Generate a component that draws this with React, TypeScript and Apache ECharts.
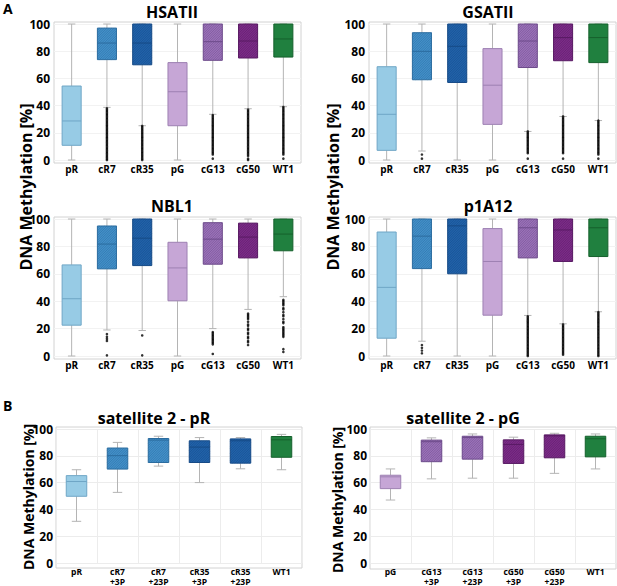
import React, { useEffect, useRef } from 'react';
import * as echarts from 'echarts';

const FONT = '"Open Sans", "Noto Sans", sans-serif';

// ---- categories ----
const catsA = ['pR', 'cR7', 'cR35', 'pG', 'cG13', 'cG50', 'WT1'];
const catsBR = ['pR', 'cR7\n+3P', 'cR7\n+23P', 'cR35\n+3P', 'cR35\n+23P', 'WT1'];
const catsBG = ['pG', 'cG13\n+3P', 'cG13\n+23P', 'cG50\n+3P', 'cG50\n+23P', 'WT1'];

// ---- y ticks ----
const yTicks = [0, 20, 40, 60, 80, 100];

// ---- box stats [min, Q1, median, Q3, max] ----
const hsatiiBoxes = [
  [0, 10.8, 28.7, 54.4, 100],
  [38.7, 73.8, 86, 97, 100],
  [25.2, 70, 86, 100, 100],
  [0, 25.2, 50.2, 71.6, 100],
  [33.6, 73.3, 87, 100, 100],
  [37.7, 75, 87.5, 100, 100],
  [39.2, 75.7, 89, 100, 100],
];
const gsatiiBoxes = [
  [0, 7.1, 33.6, 68.6, 100],
  [6.6, 59, 79.9, 93.6, 100],
  [0, 57, 83.6, 100, 100],
  [0, 26.2, 55, 81.9, 100],
  [21, 68, 87.5, 100, 100],
  [32, 73, 90, 100, 100],
  [29, 71.6, 90, 100, 100],
];
const nbl1Boxes = [
  [0, 22.5, 41.8, 66.5, 100],
  [19, 63.6, 81.7, 94.9, 100],
  [18.6, 66, 86, 100, 100],
  [0, 40.3, 64.3, 83, 100],
  [20, 67, 85.3, 97.3, 100],
  [34, 71.6, 86.8, 97, 100],
  [43.3, 76.8, 89, 100, 100],
];
const p1a12Boxes = [
  [0, 13, 50.1, 90.5, 100],
  [10.8, 63.8, 87.5, 100, 100],
  [0, 60, 95, 100, 100],
  [0, 29.8, 69, 93, 100],
  [29.6, 71.6, 93.6, 100, 100],
  [23.5, 69, 92, 100, 100],
  [32.3, 72.6, 93.6, 100, 100],
];
const satRBoxes = [
  [31.1, 49.8, 60.8, 65.2, 69.6],
  [52.7, 70.1, 80.1, 85.8, 90],
  [72.3, 75, 91.7, 92.9, 94.6],
  [60, 75, 86.5, 91.2, 93.6],
  [70.3, 74.5, 91.2, 92.6, 93.6],
  [69.6, 78.9, 91.9, 94.4, 96],
];
const satGBoxes = [
  [47, 55.5, 64.3, 65.5, 70.2],
  [62.8, 75.6, 90.5, 91.7, 93.4],
  [63.3, 77.5, 93.6, 94.6, 96.3],
  [63.3, 74.3, 88.5, 91.9, 93.9],
  [66.9, 78.5, 94.9, 95.6, 96.8],
  [70.2, 79.2, 92.7, 94.6, 96.3],
];

// ---- outliers per category ----
const hsatiiOut = [
  [],
  [38, 37, 36, 35, 34, 33, 32, 31, 30, 29, 28, 27, 26, 25, 24, 23, 22, 21, 20, 19, 18, 17, 16, 15, 14, 13, 12, 11, 10, 9, 8, 7, 6, 5, 4, 3, 2, 1, 0],
  [25, 24, 23, 22, 21, 20, 19, 18, 17, 16, 15, 14, 13, 12, 11, 10, 9, 8, 7, 6, 5, 4, 3, 2, 1, 0],
  [],
  [33, 32, 31, 30, 29, 28, 27, 26, 25, 24, 23, 22, 21, 20, 19, 18, 17, 16, 15, 14, 13, 12, 11, 10, 9, 8, 7, 6, 5, 4, 1],
  [37, 36, 35, 34, 33, 32, 31, 30, 29, 28, 27, 26, 25, 24, 23, 22, 21, 20, 19, 18, 17, 16, 15, 14, 13, 12, 11, 10, 9, 8, 7, 6, 5, 4, 3, 1, 0],
  [39, 38, 37, 36, 35, 34, 33, 32, 31, 30, 29, 28, 27, 26, 25, 24, 23, 22, 21, 20, 19, 18, 17, 16, 15, 14, 13, 12, 11, 10, 9, 8, 7, 6, 5, 4, 1],
];
const gsatiiOut = [
  [],
  [4, 1],
  [],
  [],
  [21, 20, 19, 18, 17, 16, 15, 14, 13, 12, 11, 10, 9, 8, 7, 6, 5, 1],
  [32, 31, 30, 29, 28, 27, 26, 25, 24, 23, 22, 21, 20, 19, 18, 17, 16, 15, 14, 13, 12, 11, 10, 9, 8, 7, 6, 5, 1],
  [29, 28, 27, 26, 25, 24, 23, 22, 21, 20, 19, 18, 17, 16, 15, 14, 13, 12, 11, 10, 9, 8, 7, 6, 5, 4, 1],
];
const nbl1Out = [
  [],
  [16, 14, 12.5, 11, 0.5],
  [15, 0.5],
  [],
  [17.5, 16.5, 15.5, 14.5, 13.5, 12.5, 11.5, 10.5, 9.5, 8.5, 1.5],
  [31, 30, 29, 28, 27, 25, 23, 22, 20, 19, 17, 16, 14, 13, 11, 10, 8],
  [41, 40, 39, 38, 37, 35, 34, 32, 30, 29, 27, 25, 24, 21, 20, 19, 18, 17, 16, 15, 14, 5, 3],
];
const p1a12Out = [
  [],
  [8, 6, 4, 2],
  [],
  [],
  [29, 28, 27, 26, 25, 24, 23, 22, 21, 20, 19, 18, 17, 16, 15, 14, 13, 12, 11, 10, 9, 8, 7, 6, 5, 4, 3, 2, 1, 0],
  [23, 22, 21, 20, 19, 18, 17, 16, 15, 14, 13, 12, 11, 10, 9, 8, 7, 6, 5, 4, 3, 2, 1],
  [32, 31, 30, 29, 28, 27, 26, 25, 24, 23, 22, 21, 20, 19, 18, 17, 16, 15, 14, 13, 12, 11, 10, 9, 8, 7, 6, 5, 4, 3, 2, 1, 0],
];

// ---- styles ----
const STY: Record<string, { fill: string; line: string; hatch: string | null }> = {
  pR: { fill: '#97cbe5', line: '#6fa6c6', hatch: null },
  cR7: { fill: '#4390c9', line: '#2b6c9f', hatch: '#2b6c9f' },
  cR35: { fill: '#2162aa', line: '#164a86', hatch: '#164a86' },
  pG: { fill: '#c6a6d6', line: '#9d80b2', hatch: null },
  cG13: { fill: '#9b72b9', line: '#6c4a8a', hatch: '#6c4a8a' },
  cG50: { fill: '#7c2c88', line: '#581a63', hatch: '#581a63' },
  WT1: { fill: '#20803f', line: '#15602c', hatch: null },
};
const styA = ['pR', 'cR7', 'cR35', 'pG', 'cG13', 'cG50', 'WT1'].map((k) => STY[k]);
const styBR = ['pR', 'cR7', 'cR7', 'cR35', 'cR35', 'WT1'].map((k) => STY[k]);
const styBG = ['pG', 'cG13', 'cG13', 'cG50', 'cG50', 'WT1'].map((k) => STY[k]);

const WHISK = '#b4b4b4';
const FRAME = '#d2d2d2';

type Panel = {
  title: string; cats: string[]; boxes: number[][]; out: number[][]; sty: any[];
  L: number; T: number; W: number; H: number; tx: number; ty: number; B: boolean;
};

const PANELS: Panel[] = [
  { title: 'HSATII', cats: catsA, boxes: hsatiiBoxes, out: hsatiiOut, sty: styA, L: 54, T: 24, W: 247, H: 136, tx: 172, ty: 12, B: false },
  { title: 'GSATII', cats: catsA, boxes: gsatiiBoxes, out: gsatiiOut, sty: styA, L: 369, T: 24, W: 247, H: 136, tx: 488, ty: 12, B: false },
  { title: 'NBL1', cats: catsA, boxes: nbl1Boxes, out: nbl1Out, sty: styA, L: 54, T: 219, W: 247, H: 137, tx: 172, ty: 206, B: false },
  { title: 'p1A12', cats: catsA, boxes: p1a12Boxes, out: p1a12Out, sty: styA, L: 369, T: 219, W: 247, H: 137, tx: 488, ty: 206, B: false },
  { title: 'satellite 2 - pR', cats: catsBR, boxes: satRBoxes, out: [], sty: styBR, L: 56, T: 429, W: 246, H: 136, tx: 154, ty: 418, B: true },
  { title: 'satellite 2 - pG', cats: catsBG, boxes: satGBoxes, out: [], sty: styBG, L: 370, T: 429, W: 246, H: 137, tx: 463, ty: 418, B: true },
];

function makeRender(styles: any[], boxRatio: number, capRatio: number) {
  return (params: any, api: any) => {
    const i = api.value(0);
    const s = styles[i];
    const xc = api.coord([i, 0])[0];
    const y = [1, 2, 3, 4, 5].map((k) => api.coord([i, api.value(k)])[1]);
    const band = api.size([1, 0])[0];
    const bw = band * boxRatio;
    const cw = band * capRatio;
    const x0 = xc - bw / 2;
    const top = y[3];
    const bot = y[1];
    const h = bot - top;
    const wl = { stroke: WHISK, lineWidth: 1 };
    const kids: any[] = [
      { type: 'line', shape: { x1: xc, y1: y[4], x2: xc, y2: top }, style: wl },
      { type: 'line', shape: { x1: xc, y1: bot, x2: xc, y2: y[0] }, style: wl },
      { type: 'line', shape: { x1: xc - cw / 2, y1: y[4], x2: xc + cw / 2, y2: y[4] }, style: wl },
      { type: 'line', shape: { x1: xc - cw / 2, y1: y[0], x2: xc + cw / 2, y2: y[0] }, style: wl },
      { type: 'rect', shape: { x: x0, y: top, width: bw, height: h }, style: { fill: s.fill } },
    ];
    if (s.hatch) {
      const d = 2.4;
      for (let c = x0 + top + d; c < x0 + bw + top + h; c += d) {
        const xa = Math.max(x0, c - (top + h));
        const xb = Math.min(x0 + bw, c - top);
        if (xb > xa) {
          kids.push({
            type: 'line',
            shape: { x1: xa, y1: c - xa, x2: xb, y2: c - xb },
            style: { stroke: s.hatch, lineWidth: 0.7, opacity: 0.75 },
          });
        }
      }
    }
    kids.push({ type: 'rect', shape: { x: x0, y: top, width: bw, height: h }, style: { fill: 'none', stroke: s.line, lineWidth: 1 } });
    kids.push({ type: 'line', shape: { x1: x0, y1: y[2], x2: x0 + bw, y2: y[2] }, style: { stroke: s.line, lineWidth: 1 } });
    return { type: 'group', children: kids };
  };
}

function buildOption() {
  const grid: any[] = [];
  const xAxis: any[] = [];
  const yAxis: any[] = [];
  const series: any[] = [];
  const graphic: any[] = [];

  PANELS.forEach((p, idx) => {
    grid.push({ left: p.L, top: p.T, width: p.W, height: p.H, containLabel: false });
    xAxis.push({
      type: 'category', gridIndex: idx, data: p.cats, boundaryGap: true,
      axisLine: { show: false }, axisTick: { show: false },
      splitLine: { show: p.B, lineStyle: { color: '#ececec', width: 1 } },
      axisLabel: {
        interval: 0, margin: 3, color: '#000', fontWeight: 'bold', fontFamily: FONT,
        fontSize: p.B ? 8.5 : 10, lineHeight: p.B ? 10 : 12,
      },
    });
    yAxis.push({
      type: 'value', gridIndex: idx, min: yTicks[0], max: yTicks[yTicks.length - 1], interval: yTicks[1] - yTicks[0],
      axisLine: { show: false }, axisTick: { show: false },
      splitLine: { show: true, lineStyle: { color: p.B ? '#ececec' : '#f2f2f2', width: 1 } },
      axisLabel: { margin: p.B ? 3 : 4, color: '#000', fontWeight: 'bold', fontFamily: FONT, fontSize: 12 },
    });
    series.push({
      type: 'custom', xAxisIndex: idx, yAxisIndex: idx,
      renderItem: makeRender(p.sty, p.B ? 0.5 : 0.54, p.B ? 0.23 : 0.21),
      encode: { x: 0, y: [1, 2, 3, 4, 5] },
      data: p.boxes.map((b, i) => [i, ...b]),
      silent: true, z: 2,
    });
    const pts: number[][] = [];
    p.out.forEach((arr, i) => arr.forEach((v) => pts.push([i, v])));
    if (pts.length) {
      series.push({
        type: 'scatter', xAxisIndex: idx, yAxisIndex: idx, data: pts,
        symbol: 'circle', symbolSize: 2.6, itemStyle: { color: '#000' }, silent: true, z: 3, clip: false,
      });
    }
    graphic.push({
      type: 'rect', shape: { x: p.L, y: p.T - 2, width: p.W, height: p.H + 5 },
      style: { fill: 'none', stroke: FRAME, lineWidth: 1 }, silent: true, z: 0,
    });
    graphic.push({
      type: 'text', x: p.tx, y: p.ty,
      style: { text: p.title, fill: '#000', font: `bold 16px ${FONT}`, textAlign: 'center', textVerticalAlign: 'middle' },
    });
  });

  const yl = 'DNA Methylation [%]';
  const ylabels = [
    { x: 26, y: 187, size: 16 },
    { x: 333, y: 187, size: 16 },
    { x: 28, y: 497, size: 14 },
    { x: 337, y: 500, size: 14 },
  ];
  ylabels.forEach((l) => {
    graphic.push({
      type: 'text', x: l.x, y: l.y, rotation: Math.PI / 2,
      style: { text: yl, fill: '#000', font: `bold ${l.size}px ${FONT}`, textAlign: 'center', textVerticalAlign: 'middle' },
    });
  });
  graphic.push({ type: 'text', x: 3, y: 1, style: { text: 'A', fill: '#000', font: `bold 14px ${FONT}` } });
  graphic.push({ type: 'text', x: 3, y: 398, style: { text: 'B', fill: '#000', font: `bold 14px ${FONT}` } });

  return {
    animation: false,
    backgroundColor: '#fff',
    textStyle: { fontFamily: FONT },
    grid, xAxis, yAxis, series, graphic,
  };
}

export default function App() {
  const ref = useRef<HTMLDivElement>(null);
  useEffect(() => {
    const chart = echarts.init(ref.current!, null, { renderer: 'svg' });
    chart.setOption(buildOption() as any);
    return () => chart.dispose();
  }, []);
  return (
    <div
      ref={ref}
      style={{ position: 'fixed', left: 0, top: 0, width: 617, height: 586, background: '#fff' }}
    />
  );
}
